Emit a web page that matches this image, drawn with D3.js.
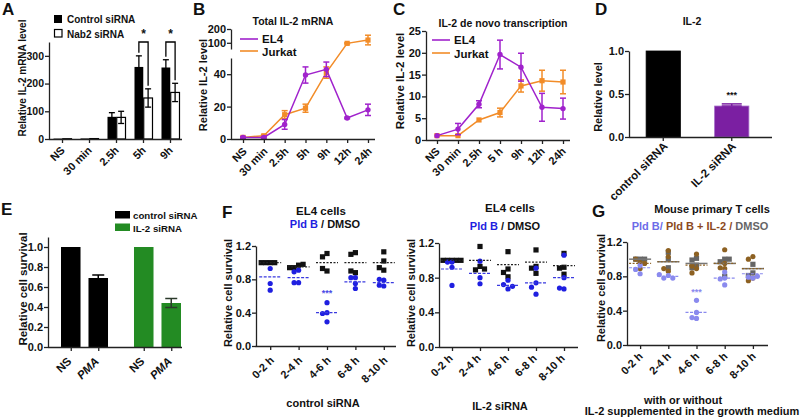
<!DOCTYPE html>
<html><head><meta charset="utf-8">
<script src="https://cdn.jsdelivr.net/npm/d3@7"></script>
<style>body{margin:0;background:#fff;}</style>
</head><body>
<svg id="chart" width="800" height="420"></svg>
<script>
// ================= DATA =================
// Panel A
const aCats = ["NS","30 min","2.5h","5h","9h"];
const aSeries = ["Control siRNA","Nab2 siRNA"];
const aControl = [1.5, 2, 80, 260, 258];
const aControlErr = [0, 0, 15, 40, 28];
const aNab2 = [1, 1.5, 78, 148, 168];
const aNab2Err = [0, 0, 22, 33, 33];
const aTicks = [0, 100, 200, 300];
const aSig = ["5h", "9h"];
// Panel B
const bCats = ["NS","30 min","2.5h","5h","9h","12h","24h"];
const bEL4 = [1, 1, 9, 39.5, 43, 13, 18];
const bEL4Err = [0.5, 0.5, 3, 5, 4.5, 0.5, 3.5];
const bJurkat = [1, 2, 15, 19, 41, 96, 120];
const bJurkatErr = [0.5, 0.6, 2.5, 2.5, 3.5, 4, 35];
const bTicksLow = [0, 20, 40];
const bTicksHigh = [100, 200];
// Panel C
const cCats = ["NS","30 min","2.5h","5 h","9h","12h","24h"];
const cEL4 = [1, 2.5, 8.2, 19.6, 16.7, 7.5, 7.2];
const cEL4Err = [0.3, 1.3, 0.8, 3.3, 3.2, 3.2, 2.4];
const cJurkat = [1, 1, 4.6, 6.3, 12.4, 13.6, 13.3];
const cJurkatErr = [0.2, 0.2, 0.2, 1.0, 1.4, 2.4, 2.7];
const cTicks = [0, 5, 10, 15, 20, 25];
// Panel D
const dCats = ["control siRNA","IL-2 siRNA"];
const dVals = [1.0, 0.36];
const dErr = [0, 0.025];
const dTicks = [0, 0.5, 1.0];
// Panel E
const eGroups = ["control siRNA","IL-2 siRNA"];
const eConds = ["NS","PMA"];
const eVals = [[1.0, 0.69],[1.0, 0.44]];
const eErr = [[0, 0.03],[0, 0.045]];
const eTicks = [0, 0.2, 0.4, 0.6, 0.8, 1.0];
// Panels F & G
const timeCats = ["0-2 h","2-4 h","4-6 h","6-8 h","8-10 h"];
const survTicks = [0, 0.4, 0.8, 1.2];
const fCtrlDMSO = [[1.0,1.0,1.0,1.0],[0.97,0.94,0.98,0.94],[1.11,1.07,0.90,0.93],[1.12,1.10,0.88,0.90],[1.13,1.02,0.91,0.94]];
const fCtrlDMSOMean = [1.0, 0.95, 1.0, 1.0, 1.0];
const fCtrlPld = [[0.93,0.75,0.67],[0.91,0.89,0.76,0.76],[0.52,0.40,0.39,0.29],[0.82,0.82,0.69,0.75],[0.79,0.80,0.72,0.73]];
const fCtrlPldMean = [0.83, 0.82, 0.40, 0.77, 0.76];
const fIl2DMSO = [[1.0,1.0,1.0,1.0,1.0],[1.16,0.93,0.89,0.90],[1.10,0.90,0.86,0.81],[1.12,0.93,0.85,0.91],[1.08,0.92,0.91,0.84]];
const fIl2DMSOMean = [1.0, 1.0, 0.95, 0.98, 0.94];
const fIl2Pld = [[0.98,0.98,0.92,0.71],[0.99,0.80,0.73],[0.77,0.72,0.67,0.70],[0.91,0.74,0.69,0.61],[1.06,0.80,0.67,0.68]];
const fIl2PldMean = [0.90, 0.85, 0.71, 0.74, 0.80];
const gDMSO = [[1.0,1.0,1.0],[1.08,1.0,0.90],[1.01,0.99,0.93,0.90],[1.0,0.97,1.0,0.80],[0.94,0.84,0.81]];
const gDMSOMean = [1.0, 0.97, 0.95, 0.95, 0.89];
const gPldIL2 = [[0.96,1.0,0.95,0.89],[1.10,1.03,0.86,0.89],[1.06,0.89,0.84,0.92],[1.11,0.89,0.90,0.95],[1.03,1.0,0.78,0.75]];
const gPldIL2Mean = [0.95, 0.97, 0.93, 0.95, 0.89];
const gPld = [[0.93,0.88,0.83],[0.81,0.78,0.78,0.82],[0.52,0.38,0.31,0.32],[0.78,0.85,0.70,0.77],[0.78,0.79,0.80]];
const gPldMean = [0.90, 0.80, 0.38, 0.78, 0.83];

// ================= HELPERS =================
const FONT = '"Liberation Sans", Arial, Helvetica, sans-serif';
const INK = "#111";
const svg = d3.select("#chart");

function txt(x, y, s, size, opts = {}) {
  const t = svg.append("text").attr("x", x).attr("y", y).text(s)
    .attr("font-size", size).attr("font-weight", "bold").attr("font-family", FONT)
    .attr("fill", opts.fill || INK).attr("text-anchor", opts.anchor || "start");
  if (opts.style) t.attr("font-style", opts.style);
  return t;
}
function ylabel(x, y, s, size) {
  svg.append("text").attr("transform", `translate(${x},${y}) rotate(-90)`)
    .attr("text-anchor", "middle").attr("font-size", size).attr("font-weight", "bold")
    .attr("font-family", FONT).attr("fill", INK).text(s);
}
function styleAxis(g, fs) {
  g.attr("font-family", FONT).attr("font-size", fs).attr("font-weight", "bold");
  g.select(".domain").attr("stroke", "#222").attr("stroke-width", 1.3);
  g.selectAll(".tick line").attr("stroke", "#222").attr("stroke-width", 1.3);
  g.selectAll(".tick text").attr("fill", INK);
}
function yAxis(scale, x, ticks, fmt, fs) {
  const g = svg.append("g").attr("transform", `translate(${x},0)`)
    .call(d3.axisLeft(scale).tickValues(ticks).tickFormat(fmt).tickSize(4).tickSizeOuter(0));
  styleAxis(g, fs);
  g.selectAll(".tick text").attr("x", -5);
  return g;
}
function xAxis(scale, y, x0, x1, fs, dx, dy, fmt) {
  const ax = d3.axisBottom(scale).tickSize(4).tickSizeOuter(0);
  if (fmt) ax.tickFormat(fmt);
  const g = svg.append("g").attr("transform", `translate(0,${y})`).call(ax);
  styleAxis(g, fs);
  g.select(".domain").remove();
  g.append("line").attr("x1", x0).attr("x2", x1).attr("y1", 0.5).attr("y2", 0.5)
    .attr("stroke", "#222").attr("stroke-width", 1.3);
  g.selectAll(".tick text").attr("y", 0).attr("dy", 0).attr("text-anchor", "end")
    .attr("transform", `translate(${dx},${dy}) rotate(-45)`);
  return g;
}
function errBar(x, yLo, yHi, w, color, sw = 1.3) {
  const g = svg.append("g").attr("stroke", color).attr("stroke-width", sw);
  g.append("line").attr("x1", x).attr("x2", x).attr("y1", yLo).attr("y2", yHi);
  g.append("line").attr("x1", x - w / 2).attr("x2", x + w / 2).attr("y1", yLo).attr("y2", yLo);
  g.append("line").attr("x1", x - w / 2).attr("x2", x + w / 2).attr("y1", yHi).attr("y2", yHi);
}
function dodge(ys, step, minD) {
  const placed = [];
  return ys.map(y => {
    for (let k = 0; k < 30; k++) {
      const off = k === 0 ? 0 : (k % 2 ? -1 : 1) * Math.ceil(k / 2) * step;
      if (placed.every(q => Math.hypot(q.off - off, q.y - y) >= minD)) {
        placed.push({ off, y }); return off;
      }
    }
    return 0;
  });
}

// ================= PANEL A =================
txt(2, 15, "A", 17);
const xA = d3.scaleBand().domain(aCats).range([49, 184]).paddingInner(0.333).paddingOuter(0.167);
const xAs = d3.scaleBand().domain(aSeries).range([0, xA.bandwidth()]).paddingInner(0.05);
const yA = d3.scaleLinear().domain([0, 350]).range([139, 42]);
aCats.forEach((c, i) => {
  const xc = xA(c) + xAs(aSeries[0]), xn = xA(c) + xAs(aSeries[1]), w = xAs.bandwidth();
  svg.append("rect").attr("x", xc).attr("y", yA(aControl[i])).attr("width", w)
    .attr("height", yA(0) - yA(aControl[i])).attr("fill", "#000");
  svg.append("rect").attr("x", xn).attr("y", yA(aNab2[i])).attr("width", w)
    .attr("height", yA(0) - yA(aNab2[i])).attr("fill", "#fff").attr("stroke", "#000").attr("stroke-width", 1.2);
  if (aControlErr[i] > 0) errBar(xc + w / 2, yA(aControl[i] - aControlErr[i]), yA(aControl[i] + aControlErr[i]), 6, "#000");
  if (aNab2Err[i] > 0) errBar(xn + w / 2, yA(aNab2[i] - aNab2Err[i]), yA(aNab2[i] + aNab2Err[i]), 6, "#000");
});
aSig.forEach(c => {
  const i = aCats.indexOf(c), w = xAs.bandwidth();
  const x1 = xA(c) + xAs(aSeries[0]) + w / 2, x2 = xA(c) + xAs(aSeries[1]) + w / 2;
  const yt = yA(350);
  svg.append("path").attr("d", `M${x1},${yA(aControl[i] + aControlErr[i]) - 3}V${yt}H${x2}V${yA(aNab2[i] + aNab2Err[i]) - 3}`)
    .attr("fill", "none").attr("stroke", "#000").attr("stroke-width", 1.3);
  txt((x1 + x2) / 2, yt - 4, "*", 12, { anchor: "middle" });
});
yAxis(yA, 49, aTicks, d3.format("d"), 10.5);
xAxis(xA, 139, 49, 182, 11, 3, 12);
ylabel(26, 78, "Relative IL-2 mRNA level", 10);
svg.append("rect").attr("x", 54).attr("y", 15).attr("width", 8).attr("height", 8).attr("fill", "#000");
txt(67, 23, aSeries[0], 10);
svg.append("rect").attr("x", 54.5).attr("y", 29.5).attr("width", 7.5).attr("height", 7.5).attr("fill", "#fff").attr("stroke", "#000").attr("stroke-width", 1.2);
txt(67, 37.5, aSeries[1], 10);

// ================= LINE PANELS B & C =================
const EL4C = "#a022cc", JURC = "#f28c28";
function linePanel(cfg) {
  const { x, y, cats, el4, el4Err, jur, jurErr } = cfg;
  const line = d3.line().x((d, i) => x(cats[i])).y(d => y(d));
  svg.append("path").datum(jur).attr("d", line).attr("fill", "none").attr("stroke", JURC).attr("stroke-width", 1.5);
  jur.forEach((v, i) => { if (jurErr[i] > 0.3) errBar(x(cats[i]), y(v - jurErr[i]), y(v + jurErr[i]), 6, JURC, 1.5); });
  svg.selectAll(null).data(jur).enter().append("rect")
    .attr("x", (d, i) => x(cats[i]) - 2.6).attr("y", d => y(d) - 2.6).attr("width", 5.2).attr("height", 5.2).attr("fill", JURC);
  svg.append("path").datum(el4).attr("d", line).attr("fill", "none").attr("stroke", EL4C).attr("stroke-width", 1.5);
  el4.forEach((v, i) => { if (el4Err[i] > 0.3) errBar(x(cats[i]), y(v - el4Err[i]), y(v + el4Err[i]), 6, EL4C, 1.5); });
  svg.selectAll(null).data(el4).enter().append("circle")
    .attr("cx", (d, i) => x(cats[i])).attr("cy", d => y(d)).attr("r", 2.7).attr("fill", EL4C);
}
function lineLegend(x, y1, y2, fs) {
  svg.append("line").attr("x1", x).attr("x2", x + 18).attr("y1", y1).attr("y2", y1).attr("stroke", EL4C).attr("stroke-width", 1.6);
  txt(x + 22, y1 + 4, "EL4", fs);
  svg.append("line").attr("x1", x).attr("x2", x + 18).attr("y1", y2).attr("y2", y2).attr("stroke", JURC).attr("stroke-width", 1.6);
  txt(x + 22, y2 + 4.5, "Jurkat", fs);
}
// B
txt(193, 15, "B", 17);
txt(293, 25, "Total IL-2 mRNA", 10.5, { anchor: "middle" });
const xB = d3.scalePoint().domain(bCats).range([232.6, 378.4]).padding(0.5);
const yBLow = d3.scaleLinear().domain([0, 50]).range([139, 58]);
const yBHigh = d3.scaleLinear().domain([55, 200]).range([49, 29]);
const yB = v => (v <= 52 ? yBLow(v) : yBHigh(v));
linePanel({ x: xB, y: yB, cats: bCats, el4: bEL4, el4Err: bEL4Err, jur: bJurkat, jurErr: bJurkatErr });
yAxis(yBLow, 231, bTicksLow, d3.format("d"), 11);
yAxis(yBHigh, 231, bTicksHigh, d3.format("d"), 11);
xAxis(xB, 139, 231, 375, 11, 4, 13);
ylabel(207, 85, "Relative IL-2 level", 11);
lineLegend(240, 39, 51, 11.5);
// C
txt(393, 15, "C", 17);
txt(503, 27, "IL-2 de novo transcription", 10.5, { anchor: "middle" });
const xC = d3.scalePoint().domain(cCats).range([426.5, 573.5]).padding(0.5);
const yC = d3.scaleLinear().domain([0, 25]).range([140, 31]);
linePanel({ x: xC, y: yC, cats: cCats, el4: cEL4, el4Err: cEL4Err, jur: cJurkat, jurErr: cJurkatErr });
yAxis(yC, 426, cTicks, d3.format("d"), 11);
xAxis(xC, 140, 426, 570, 11, 3, 12);
ylabel(404, 81, "Relative IL-2 level", 11.5);
lineLegend(432, 40, 53, 11.5);

// ================= PANEL D =================
txt(595, 15, "D", 17);
txt(692, 25, "IL-2", 10.5, { anchor: "middle" });
const xD = d3.scaleBand().domain(dCats).range([629, 766]).paddingInner(0.5).paddingOuter(0.25);
const yD = d3.scaleLinear().domain([0, 1]).range([137, 51]);
const dColors = ["#000", "#7b1fa2"];
dCats.forEach((c, i) => {
  svg.append("rect").attr("x", xD(c)).attr("y", yD(dVals[i])).attr("width", xD.bandwidth())
    .attr("height", yD(0) - yD(dVals[i])).attr("fill", dColors[i])
    .attr("stroke", i ? "#a46cc8" : "#000").attr("stroke-width", 0.8);
  if (dErr[i] > 0) {
    errBar(xD(c) + xD.bandwidth() / 2, yD(dVals[i]), yD(dVals[i] + dErr[i]), 20, dColors[i], 1.5);
    txt(xD(c) + xD.bandwidth() / 2, yD(dVals[i] + dErr[i]) - 6, "***", 9, { anchor: "middle" });
  }
});
yAxis(yD, 629, dTicks, d3.format(".1f"), 11);
xAxis(xD, 137, 629, 772, 11.5, 5, 10);
ylabel(602, 97, "Relative level", 11);

// ================= PANEL E =================
txt(1, 215, "E", 17);
const GREEN = "#238b23";
const eColors = ["#000", GREEN];
const xE = d3.scaleBand().domain(eGroups).range([61, 181]).paddingInner(0.356).paddingOuter(0);
const xEs = d3.scaleBand().domain(eConds).range([0, xE.bandwidth()]).paddingInner(0.29).paddingOuter(0);
const yE = d3.scaleLinear().domain([0, 1.1]).range([347, 237]);
const eKeys = [], ePos = [];
eGroups.forEach((gName, gi) => eConds.forEach((cName, ci) => {
  const x0 = xE(gName) + xEs(cName), w = xEs.bandwidth(), v = eVals[gi][ci], e = eErr[gi][ci];
  eKeys.push(gName + "|" + cName); ePos.push(x0 + w / 2);
  svg.append("rect").attr("x", x0).attr("y", yE(v)).attr("width", w).attr("height", yE(0) - yE(v)).attr("fill", eColors[gi]);
  if (e > 0) errBar(x0 + w / 2, yE(v - e), yE(v + e), 12, gi ? "#2b3a2b" : "#000", 1.5);
}));
yAxis(yE, 48, eTicks, d3.format(".1f"), 11);
const xEk = d3.scaleOrdinal().domain(eKeys).range(ePos);
const gE = xAxis(xEk, 347, 48, 182, 11.5, 1, 15, k => k.split("|")[1]);
gE.selectAll(".tick text").attr("font-style", d => d.endsWith("PMA") ? "italic" : "normal");
ylabel(27, 289, "Relative cell survival", 11.5);
eGroups.forEach((gName, gi) => {
  svg.append("rect").attr("x", 115).attr("y", 211 + gi * 12.5).attr("width", 15).attr("height", 7.5).attr("fill", eColors[gi]);
  txt(133, 219 + gi * 12.5, gName, 9.7);
});

// ================= SCATTER PANELS F & G =================
function scatterPanel(cfg) {
  const { x, y, series } = cfg;
  series.forEach(s => {
    s.values.forEach((vals, ti) => {
      const xc = x(timeCats[ti]);
      const offs = dodge(vals.map(v => y(v)), 4.5, 4.5);
      vals.forEach((v, k) => {
        if (s.shape === "square") {
          svg.append("rect").attr("x", xc + offs[k] - 2.6).attr("y", y(v) - 2.6)
            .attr("width", 5.2).attr("height", 5.2).attr("fill", s.color);
        } else {
          svg.append("circle").attr("cx", xc + offs[k]).attr("cy", y(v)).attr("r", 2.6).attr("fill", s.color);
        }
      });
    });
  });
  series.forEach(s => {
    s.means.forEach((m, ti) => {
      const xc = x(timeCats[ti]);
      const l = svg.append("line").attr("x1", xc - 11).attr("x2", xc + 11).attr("y1", y(m)).attr("y2", y(m))
        .attr("stroke", s.lineColor).attr("stroke-width", s.lineWidth || 1.2);
      if (s.dash) l.attr("stroke-dasharray", s.dash);
    });
  });
}
const FBLUE = "#1f1fe0";
// F left
txt(222, 218, "F", 17);
txt(321, 215, "EL4 cells", 11.5, { anchor: "middle" });
const tFL = txt(325, 227.5, "", 11, { anchor: "middle" });
tFL.append("tspan").attr("fill", FBLUE).text("Pld B");
tFL.append("tspan").attr("fill", INK).text(" / DMSO");
const xFL = d3.scalePoint().domain(timeCats).range([256, 398]).padding(0.5);
const yFL = d3.scaleLinear().domain([0, 1.2]).range([346, 246]);
scatterPanel({ x: xFL, y: yFL, series: [
  { values: fCtrlDMSO, means: fCtrlDMSOMean, shape: "square", color: "#111", lineColor: "#222", dash: "2,1.5" },
  { values: fCtrlPld, means: fCtrlPldMean, shape: "circle", color: FBLUE, lineColor: "#3a3ae0", dash: "3,1.5" }
]});
txt(xFL(timeCats[2]), yFL(fCtrlPldMean[2]) - 17, "***", 9, { anchor: "middle", fill: "#4a4ae6" });
yAxis(yFL, 256, survTicks, d3.format(".1f"), 11);
xAxis(xFL, 346, 256, 396, 11, 4, 15);
ylabel(232, 293, "Relative cell survival", 11);
txt(323, 407, "control siRNA", 11, { anchor: "middle" });
// F right
txt(510, 212, "EL4 cells", 11.5, { anchor: "middle" });
const tFR = txt(505, 230, "", 11, { anchor: "middle" });
tFR.append("tspan").attr("fill", FBLUE).text("Pld B");
tFR.append("tspan").attr("fill", INK).text(" / DMSO");
const xFR = d3.scalePoint().domain(timeCats).range([438, 578]).padding(0.5);
const yFR = d3.scaleLinear().domain([0, 1.2]).range([347, 243]);
scatterPanel({ x: xFR, y: yFR, series: [
  { values: fIl2DMSO, means: fIl2DMSOMean, shape: "square", color: "#111", lineColor: "#222", dash: "2,1.5" },
  { values: fIl2Pld, means: fIl2PldMean, shape: "circle", color: FBLUE, lineColor: "#3a3ae0", dash: "3,1.5" }
]});
yAxis(yFR, 439, survTicks, d3.format(".1f"), 11);
xAxis(xFR, 347, 439, 578, 11, 1, 12);
ylabel(415, 293, "Relative cell survival", 11);
txt(500, 410, "IL-2 siRNA", 11, { anchor: "middle" });

// G
const LAV = "#8a8aee", BROWN = "#8d6122", GRAY = "#666";
txt(592, 217, "G", 17);
txt(712, 213, "Mouse primary T cells", 11, { anchor: "middle" });
const tG = txt(700, 230, "", 11, { anchor: "middle" });
tG.append("tspan").attr("fill", "#6c6ce8").text("Pld B/");
tG.append("tspan").attr("fill", "#8b4a1e").text(" Pld B + IL-2 /");
tG.append("tspan").attr("fill", GRAY).text(" DMSO");
const xG = d3.scalePoint().domain(timeCats).range([626, 767]).padding(0.5);
const yG = d3.scaleLinear().domain([0, 1.2]).range([345, 242]);
scatterPanel({ x: xG, y: yG, series: [
  { values: gDMSO, means: gDMSOMean, shape: "square", color: GRAY, lineColor: "#777", lineWidth: 1.5 },
  { values: gPldIL2, means: gPldIL2Mean, shape: "circle", color: BROWN, lineColor: BROWN, dash: "2,1.5" },
  { values: gPld, means: gPldMean, shape: "circle", color: LAV, lineColor: LAV, dash: "3,1.5" }
]});
txt(xG(timeCats[2]), yG(gPldMean[2]) - 17, "***", 9, { anchor: "middle", fill: LAV });
yAxis(yG, 627, survTicks, d3.format(".1f"), 11);
xAxis(xG, 345, 627, 768, 11, 3, 12);
ylabel(605, 288, "Relative cell survival", 11);
txt(683, 404, "with or without", 11, { anchor: "middle" });
txt(692, 415, "IL-2 supplemented in the growth medium", 11, { anchor: "middle" });
</script>
</body></html>
